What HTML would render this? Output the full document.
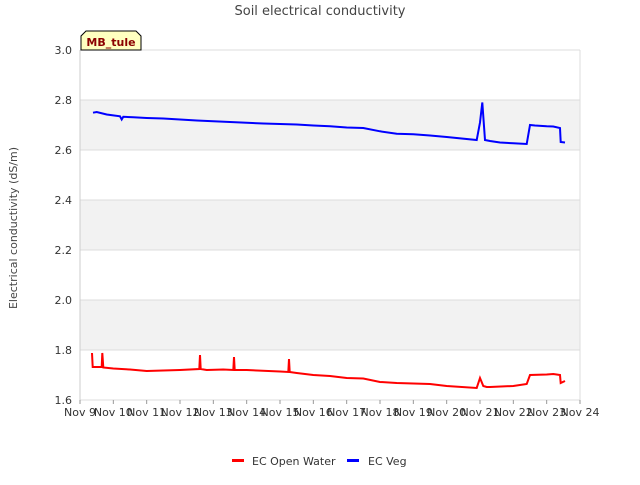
<!DOCTYPE html>
<html><head><meta charset="utf-8"><style>
body{margin:0;background:#fff;font-family:"Liberation Sans","DejaVu Sans",sans-serif}
</style></head><body>
<svg id="c" width="640" height="480" xmlns="http://www.w3.org/2000/svg" font-family="DejaVu Sans, Liberation Sans, sans-serif">
<text x="320" y="15" text-anchor="middle" font-size="13" fill="#444">Soil electrical conductivity</text>
<g id="bands"></g><g id="axes"></g><g id="series"></g>
<text transform="translate(17,228) rotate(-90)" text-anchor="middle" font-size="11" fill="#444">Electrical conductivity (dS/m)</text>
<g>
<path d="M81,50 L81,36 L86,31 L136,31 L141,36 L141,50 Z" fill="#ffffc0" stroke="#000" stroke-width="1"/>
<text x="111" y="46" text-anchor="middle" font-size="11" font-weight="bold" fill="#8b0000">MB_tule</text>
</g>
<g>
<g><rect x="232" y="459" width="12" height="3" fill="#f00"/><text x="252" y="465" font-size="11" fill="#333">EC Open Water</text></g>
<g><rect x="347" y="459" width="12" height="3" fill="#00f"/><text x="368" y="465" font-size="11" fill="#333">EC Veg</text></g>
</g>
</svg>
<script>
const xTickLabels=["Nov 9","Nov 10","Nov 11","Nov 12","Nov 13","Nov 14","Nov 15","Nov 16","Nov 17","Nov 18","Nov 19","Nov 20","Nov 21","Nov 22","Nov 23","Nov 24"];
const yTicks=[1.6,1.8,2.0,2.2,2.4,2.6,2.8,3.0];
const vegDays=[0.39,0.5,0.8,1.2,1.25,1.3,1.6,2.0,2.5,3.0,3.5,4.0,4.5,5.0,5.5,6.0,6.5,7.0,7.5,8.0,8.5,9.0,9.5,10.0,10.5,11.0,11.9,12.0,12.07,12.15,12.3,12.6,13.0,13.4,13.5,13.65,14.0,14.2,14.4,14.42,14.55];
const vegVals=[2.749,2.752,2.742,2.735,2.722,2.733,2.731,2.728,2.726,2.722,2.718,2.715,2.712,2.709,2.706,2.704,2.702,2.698,2.695,2.690,2.688,2.675,2.665,2.663,2.658,2.652,2.640,2.71,2.79,2.64,2.636,2.630,2.627,2.624,2.70,2.698,2.695,2.694,2.688,2.632,2.630];
const waterDays=[0.36,0.38,0.4,0.65,0.67,0.7,1.0,1.5,2.0,2.5,3.0,3.58,3.6,3.62,3.8,4.3,4.6,4.62,4.64,5.0,6.0,6.25,6.27,6.29,6.5,7.0,7.5,8.0,8.5,9.0,9.5,10.0,10.5,11.0,11.9,12.0,12.1,12.2,12.3,13.0,13.4,13.5,14.0,14.2,14.4,14.42,14.55];
const waterVals=[1.788,1.732,1.732,1.732,1.788,1.730,1.726,1.722,1.716,1.718,1.720,1.724,1.78,1.724,1.720,1.722,1.720,1.772,1.720,1.720,1.714,1.712,1.764,1.712,1.708,1.700,1.696,1.688,1.686,1.672,1.668,1.666,1.664,1.656,1.648,1.688,1.656,1.652,1.652,1.656,1.664,1.700,1.702,1.704,1.700,1.668,1.676];
const NS="http://www.w3.org/2000/svg";
const X0=80,X1=580,Y0=400,Y1=50;
const xs=d=>X0+d*(X1-X0)/15;
const ys=v=>Y0-(v-1.6)*(Y0-Y1)/1.4;
function mk(t,a,p){const e=document.createElementNS(NS,t);for(const k in a)e.setAttribute(k,a[k]);p.appendChild(e);return e;}
const bands=document.getElementById('bands'),axes=document.getElementById('axes'),ser=document.getElementById('series');
mk('rect',{x:X0,y:Y1,width:X1-X0,height:Y0-Y1,fill:'#fff'},bands);
for(let i=0;i<yTicks.length-1;i++){
  if(i%2==1){const r=mk('rect',{x:X0,y:ys(yTicks[i+1]),width:X1-X0,height:ys(yTicks[i])-ys(yTicks[i+1]),fill:'#f2f2f2'},bands);
  
  }
}
yTicks.forEach(v=>{
  const l=mk('line',{x1:X0,x2:X1,y1:ys(v),y2:ys(v),stroke:'#dcdcdc'},axes);
  
  
  const t=mk('text',{x:X0-8,y:ys(v)+4,'text-anchor':'end','font-size':'11',fill:'#333'},axes);
  t.textContent=v.toFixed(1);
  
  
});
mk('line',{x1:X0,x2:X0,y1:Y1,y2:Y0,stroke:'#ccc'},axes);
mk('line',{x1:X1,x2:X1,y1:Y1,y2:Y0,stroke:'#ddd'},axes);
xTickLabels.forEach((s,i)=>{
  mk('line',{x1:xs(i),x2:xs(i),y1:Y0,y2:Y0+4,stroke:'#999'},axes);
  const t=mk('text',{x:xs(i),y:Y0+16,'text-anchor':'middle','font-size':'11',fill:'#333'},axes);
  t.textContent=s;
  
  
});
function line(d,v,c,n){
  const p=mk('polyline',{points:d.map((x,i)=>xs(x).toFixed(1)+','+ys(v[i]).toFixed(1)).join(' '),fill:'none',stroke:c,'stroke-width':'2'},ser);
  
  
}
line(waterDays,waterVals,'#f00','ec-open-water-line');
line(vegDays,vegVals,'#00f','ec-veg-line');
</script>
</body></html>
